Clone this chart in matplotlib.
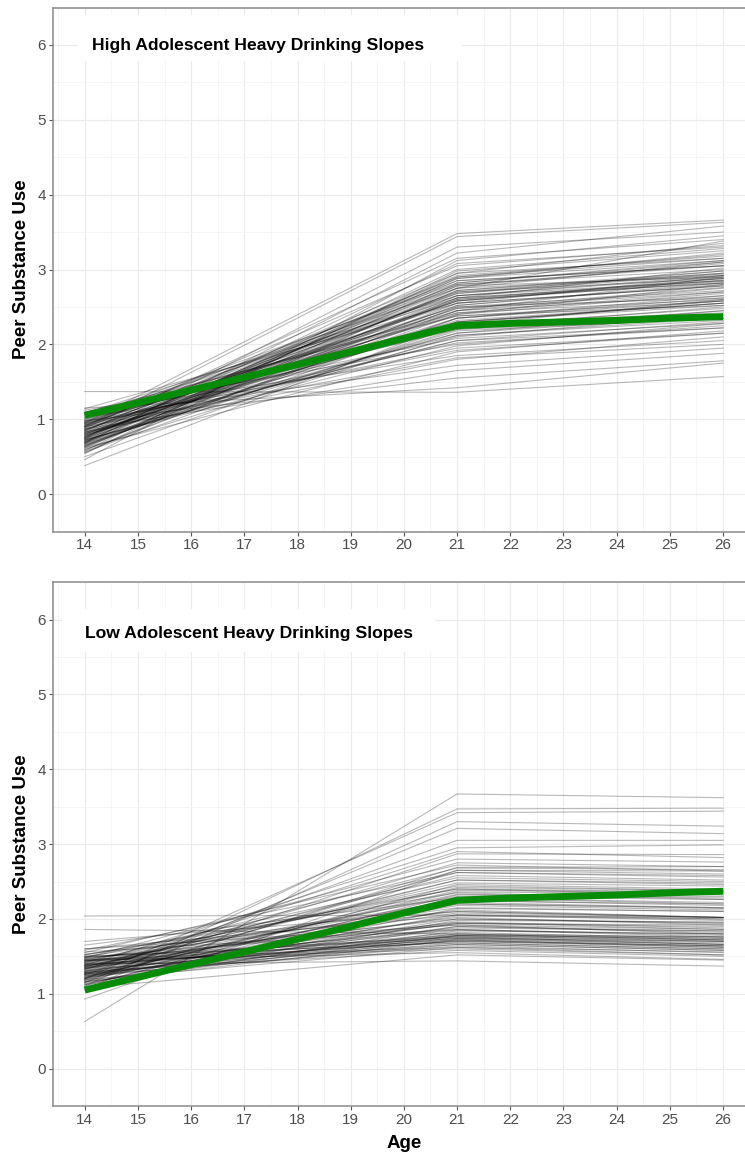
"""Peer substance use trajectories by adolescent heavy drinking slope group."""

import matplotlib

matplotlib.use("Agg")
import matplotlib.pyplot as plt
from matplotlib.patches import Rectangle

plt.rcParams["font.family"] = ["Liberation Sans", "DejaVu Sans"]

AGES = [14, 21, 26]

# model-implied mean trajectory (green line), same in both panels
MEAN_AGES = [14, 15, 16, 17, 18, 19, 20, 21, 22, 23, 24, 25, 26]
MEAN_PSU = [1.05, 1.22, 1.39, 1.56, 1.73, 1.90, 2.08, 2.25, 2.28, 2.30, 2.32, 2.35, 2.37]

# individual trajectories, high adolescent heavy drinking slopes
high_age14 = [
    1.37, 0.38, 0.46, 0.95, 0.90, 1.15, 0.98, 0.75, 0.68, 1.10,
    0.85, 0.72, 0.90, 0.63, 1.05, 0.80, 0.95, 0.70, 0.88, 0.58,
    1.00, 0.78, 0.66, 0.92, 0.83, 1.08, 0.74, 0.55, 0.97, 0.81,
    0.69, 0.87, 1.12, 0.76, 0.62, 0.93, 0.84, 0.71, 1.02, 0.79,
    0.57, 0.89, 0.67, 0.96, 0.73, 1.06, 0.82, 0.64, 0.91, 0.77,
    0.50, 0.86, 1.03, 0.74, 0.94, 0.61, 0.80, 0.99, 0.70, 0.88,
    0.65, 0.83, 1.14, 0.75, 0.90, 0.68, 0.98, 0.78, 0.54, 0.85,
    0.72, 0.95, 0.63, 0.81, 1.07, 0.69, 0.92, 0.76, 0.59, 0.87,
    1.01, 0.73, 0.84, 0.66, 0.97, 0.79, 0.56, 0.90, 0.71, 1.09,
    0.82, 0.64, 0.94, 0.77, 0.86, 1.04, 0.68, 0.92, 0.74, 0.60,
]
high_age21 = [
    1.36, 2.30, 3.12, 3.48, 3.44, 1.42, 1.55, 3.30, 3.22, 1.85,
    2.90, 2.10, 3.05, 2.55, 2.30, 2.75, 1.95, 2.85, 2.40, 2.95,
    2.20, 2.60, 2.35, 2.80, 1.80, 2.65, 2.45, 2.75, 2.50, 2.05,
    3.00, 2.25, 2.00, 2.70, 1.90, 2.55, 2.95, 2.30, 2.82, 2.15,
    2.50, 2.65, 2.88, 2.38, 1.98, 2.42, 2.78, 2.62, 2.12, 2.52,
    2.25, 2.58, 1.72, 2.92, 2.70, 2.82, 2.32, 2.45, 2.18, 3.15,
    2.40, 2.05, 2.55, 2.62, 1.82, 2.72, 2.28, 2.48, 2.98, 2.68,
    2.15, 2.85, 2.60, 2.35, 2.08, 2.78, 2.22, 2.90, 2.45, 1.65,
    2.75, 2.52, 2.42, 2.65, 1.92, 2.80, 2.35, 2.58, 3.08, 2.38,
    2.28, 2.72, 2.02, 2.58, 2.48, 2.62, 2.20, 2.68, 2.88, 2.12,
]
high_age26 = [
    1.57, 2.55, 3.45, 3.66, 3.63, 1.75, 1.78, 3.50, 3.58, 2.05,
    3.20, 2.40, 3.32, 2.92, 2.55, 3.10, 2.15, 3.05, 2.80, 3.15,
    2.35, 2.88, 2.65, 3.00, 2.10, 2.85, 2.90, 3.38, 2.62, 2.30,
    3.28, 2.48, 2.25, 2.95, 2.18, 2.78, 3.35, 2.52, 3.10, 2.45,
    2.72, 2.92, 3.22, 2.58, 2.28, 2.70, 2.90, 2.85, 2.32, 2.82,
    2.60, 2.88, 1.95, 3.18, 2.88, 3.12, 2.55, 2.75, 2.35, 3.40,
    2.68, 2.22, 2.78, 3.02, 2.00, 2.95, 2.42, 2.70, 3.25, 2.98,
    2.38, 3.05, 2.82, 2.62, 2.28, 3.08, 2.50, 3.15, 2.65, 1.88,
    2.92, 2.80, 2.60, 2.90, 2.15, 3.05, 2.58, 2.84, 3.30, 2.52,
    2.58, 2.98, 2.22, 2.86, 2.76, 2.82, 2.45, 2.94, 3.12, 2.35,
]

# individual trajectories, low adolescent heavy drinking slopes
low_age14 = [
    2.04, 1.86, 0.63, 0.93, 1.10, 1.20, 1.40, 1.05, 1.15, 1.45,
    1.25, 1.38, 1.20, 1.48, 1.15, 1.33, 1.10, 1.52, 1.28, 1.42,
    1.18, 1.35, 1.60, 1.22, 1.44, 1.12, 1.37, 1.26, 1.50, 1.32,
    1.16, 1.40, 1.24, 1.46, 1.30, 1.08, 1.36, 1.20, 1.42, 1.28,
    1.55, 1.34, 1.22, 1.46, 1.14, 1.38, 1.26, 1.50, 1.32, 1.18,
    1.43, 1.27, 1.60, 1.35, 1.22, 1.48, 1.12, 1.39, 1.30, 1.45,
    1.25, 1.52, 1.36, 1.20, 1.41, 1.28, 1.58, 1.33, 1.17, 1.44,
    1.30, 1.47, 1.24, 1.38, 1.65, 1.21, 1.34, 1.49, 1.27, 1.40,
    1.13, 1.36, 1.53, 1.29, 1.44, 1.19, 1.37, 1.70, 1.31, 1.48,
    1.23, 1.39, 1.56, 1.26, 1.42, 1.16, 1.34, 1.50, 1.28, 1.45,
]
low_age21 = [
    2.05, 1.80, 3.67, 2.65, 3.47, 3.42, 1.44, 3.30, 3.21, 1.55,
    3.05, 2.95, 2.87, 2.80, 2.69, 2.62, 2.46, 2.40, 2.33, 2.25,
    2.20, 2.12, 2.05, 2.00, 1.95, 1.90, 1.85, 1.80, 1.76, 1.74,
    1.72, 1.70, 1.66, 1.62, 1.58, 1.52, 2.58, 2.28, 2.02, 1.78,
    2.72, 2.52, 2.38, 2.15, 1.98, 1.88, 1.75, 1.68, 2.90, 2.65,
    2.44, 2.22, 1.92, 1.82, 1.73, 2.55, 2.32, 2.08, 1.94, 1.78,
    1.64, 2.35, 2.48, 2.06, 1.86, 1.71, 2.62, 2.18, 1.84, 1.60,
    2.75, 2.00, 1.90, 1.76, 2.28, 2.42, 1.96, 1.74, 1.68, 2.30,
    2.14, 1.80, 2.10, 2.52, 1.72, 1.62, 2.24, 2.10, 1.77, 1.92,
    2.36, 1.70, 1.86, 2.04, 2.68, 1.78, 1.66, 2.20, 1.94, 2.40,
]
low_age26 = [
    2.02, 1.72, 3.62, 2.60, 3.48, 3.44, 1.37, 3.24, 3.14, 1.46,
    3.05, 2.99, 2.86, 2.76, 2.70, 2.58, 2.40, 2.32, 2.28, 2.18,
    2.15, 2.02, 1.98, 1.95, 1.86, 1.82, 1.80, 1.72, 1.66, 1.70,
    1.62, 1.64, 1.58, 1.52, 1.50, 1.45, 2.52, 2.22, 1.92, 1.76,
    2.64, 2.46, 2.36, 2.10, 1.96, 1.84, 1.68, 1.60, 2.82, 2.64,
    2.38, 2.15, 1.80, 1.74, 1.66, 2.50, 2.30, 2.02, 1.90, 1.70,
    1.55, 2.26, 2.44, 2.00, 1.78, 1.64, 2.56, 2.12, 1.80, 1.52,
    2.70, 1.94, 1.84, 1.70, 2.20, 2.38, 1.88, 1.66, 1.60, 2.26,
    2.10, 1.76, 2.02, 2.48, 1.64, 1.56, 2.20, 2.02, 1.72, 1.86,
    2.34, 1.62, 1.76, 2.00, 2.66, 1.74, 1.58, 2.14, 1.92, 2.36,
]

W, H = 745, 1161


def style_axes(ax):
    ax.set_xlim(13.4, 26.6)
    ax.set_ylim(-0.3, 6.3)
    ax.set_xticks(range(14, 27))
    ax.set_xticks([x + 0.5 for x in range(13, 27)], minor=True)
    ax.set_yticks(range(0, 7))
    ax.set_yticks([y + 0.5 for y in range(-1, 7)], minor=True)
    ax.set_axisbelow(True)
    ax.grid(which="major", color="#EBEBEB", lw=0.8)
    ax.grid(which="minor", color="#F4F4F4", lw=0.6)
    for side in ("left", "bottom", "top"):
        ax.spines[side].set_color("#8A8A8A")
        ax.spines[side].set_linewidth(1.1)
    ax.spines["right"].set_visible(False)
    ax.tick_params(which="major", length=3, width=0.8, color="#555555",
                   labelcolor="#4D4D4D", labelsize=11, pad=2)
    ax.tick_params(which="minor", length=0)


def draw_panel(ax, age14, age21, age26, title, box, title_xy):
    style_axes(ax)
    bx0, by0, bx1, by1 = box
    ax.add_patch(Rectangle((bx0, by0), bx1 - bx0, by1 - by0, facecolor="white",
                           edgecolor="none", zorder=1))
    for a, b, c in zip(age14, age21, age26):
        ax.plot(AGES, [a, b, c], color="black", alpha=0.28, lw=0.8, zorder=2)
    ax.plot(MEAN_AGES, MEAN_PSU, color="#078C07", lw=5, zorder=3,
            solid_capstyle="butt", solid_joinstyle="round")
    ax.text(title_xy[0], title_xy[1], title, fontsize=12.6, fontweight="bold",
            ha="left", va="baseline", zorder=4)


def main():
    fig = plt.figure(figsize=(W / 100, H / 100), dpi=100)
    left = 52.8 / W
    width = 702.2 / W
    height = 524 / H

    ax1 = fig.add_axes([left, (H - 531.5) / H, width, height])
    draw_panel(ax1, high_age14, high_age21, high_age26,
               "High Adolescent Heavy Drinking Slopes",
               (13.87, 5.79, 21.09, 6.4), (14.14, 5.93))

    ax2 = fig.add_axes([left, (H - 1106.1) / H, width, height])
    draw_panel(ax2, low_age14, low_age21, low_age26,
               "Low Adolescent Heavy Drinking Slopes",
               (13.58, 5.57, 20.58, 6.14), (14.0, 5.75))

    for yc in (269.5, 844.2):
        fig.text(22 / W, 1 - yc / H, "Peer Substance Use", rotation=90,
                 fontsize=13.5, fontweight="bold", ha="center", va="center")
    fig.text(404 / W, 1 - 1143 / H, "Age", fontsize=13.5, fontweight="bold",
             ha="center", va="center")

    fig.savefig("out.png", dpi=100)
    plt.close(fig)


if __name__ == "__main__":
    main()
